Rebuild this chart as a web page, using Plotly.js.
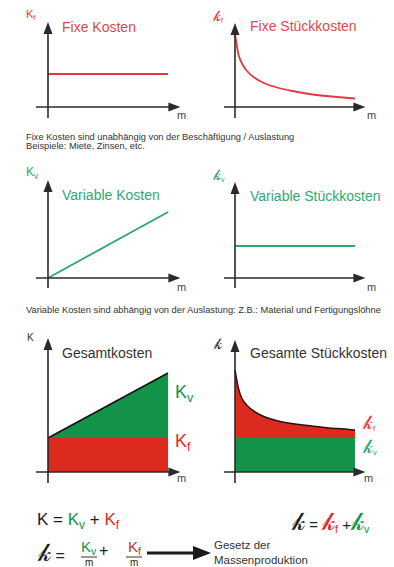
<!DOCTYPE html>
<html><head><meta charset="utf-8">
<script src="https://cdn.plot.ly/plotly-3.0.1.min.js"></script>
<style>html,body{margin:0;padding:0;background:#fff}#chart{width:394px;height:567px}</style>
</head><body><div id="chart"></div>
<script>
// ---- data ----
const mSpan = [0, 10];                 // output quantity m (start, end)
const fixedCost = [3.3, 3.3];          // K_f
const unitFixedM = [0, 0.3, 0.6, 1.0, 1.6, 2.4, 3.5, 4.8, 6.2, 7.6, 9.0, 10];
const unitFixedCost = [7.3, 5.2, 4.3, 3.6, 2.95, 2.4, 1.95, 1.6, 1.3, 1.1, 0.95, 0.85]; // k_f
const variableCost = [0, 6.6];         // K_v
const unitVariableCost = [3.2, 3.2];   // k_v
const totalFixed = [3.4, 3.4];         // K_f part of K
const totalCost = [3.4, 9.9];          // K = K_v + K_f
const unitVarPart = [3.4, 3.4];        // k_v part of k
const unitTotalM = [0, 0.28, 0.56, 0.97, 1.67, 2.5, 3.6, 5.0, 6.4, 7.8, 9.2, 10];
const unitTotalCost = [10.2, 8.4, 7.4, 6.7, 6.0, 5.5, 5.1, 4.8, 4.6, 4.4, 4.3, 4.2]; // k

const panelTitles = ['Fixe Kosten', 'Fixe Stückkosten', 'Variable Kosten', 'Variable Stückkosten', 'Gesamtkosten', 'Gesamte Stückkosten'];

// ---- styles ----
const W = 394, H = 567;
const FF = 'Liberation Sans, Arial, Helvetica, sans-serif';
const RED = '#e4383c', GREEN = '#2ba86a', FILLRED = '#dc2a1f', FILLGREEN = '#13934a', AX = '#2a2a2a', TXT = '#333';
const P = px => px / W, Q = py => 1 - py / H;
const SKg = size => '<span style="font-size:' + size + 'px">𝓀</span>';

function xdom(a, b) { return [P(a), P(b)]; }
function ydom(bot, top) { return [Q(bot), Q(top)]; }
const panels = [
  {xd: xdom(36, 181), yd: ydom(118, 21), xr: [-1, 11.08], yr: [-1.1, 8.6], ytip: 8.5},
  {xd: xdom(224, 366), yd: ydom(118, 21), xr: [-0.917, 10.92], yr: [-1.1, 8.6], ytip: 8.4},
  {xd: xdom(36, 181), yd: ydom(288, 179), xr: [-1, 11.08], yr: [-1, 9.9], ytip: 9.8},
  {xd: xdom(224, 366), yd: ydom(288, 179), xr: [-0.917, 10.92], yr: [-1, 9.9], ytip: 9.6},
  {xd: xdom(36, 181), yd: ydom(483, 337), xr: [-1, 11.08], yr: [-1.1, 13.5], ytip: 13.4},
  {xd: xdom(224, 366), yd: ydom(483, 337), xr: [-0.917, 10.92], yr: [-1.1, 13.5], ytip: 13.2}
];

const layout = {
  width: W, height: H, margin: {l: 0, r: 0, t: 0, b: 0},
  paper_bgcolor: '#fff', plot_bgcolor: 'rgba(0,0,0,0)', showlegend: false,
  font: {family: FF, color: TXT},
  annotations: [], shapes: []
};
const S = layout.shapes;
panels.forEach((p, i) => {
  const n = i === 0 ? '' : String(i + 1);
  const xr = 'x' + n, yr = 'y' + n;
  layout['xaxis' + n] = {domain: p.xd, range: p.xr, visible: false, fixedrange: true, anchor: yr};
  layout['yaxis' + n] = {domain: p.yd, range: p.yr, visible: false, fixedrange: true, anchor: xr};
  const xtip = p.xr[1] - 0.05;
  // axis lines
  S.push({type: 'line', xref: xr, yref: yr, x0: 0, x1: 0, y0: p.yr[0], y1: p.ytip - 0.4, line: {color: AX, width: 1.6}});
  S.push({type: 'line', xref: xr, yref: yr, x0: p.xr[0], x1: xtip - 0.4, y0: 0, y1: 0, line: {color: AX, width: 1.6}});
  // arrow heads (pixel sized)
  S.push({type: 'path', xref: xr, yref: yr, xsizemode: 'pixel', ysizemode: 'pixel', xanchor: 0, yanchor: p.ytip,
    path: 'M0,0 L-4.5,-12 L4.5,-12 Z', fillcolor: AX, line: {width: 0}});
  S.push({type: 'path', xref: xr, yref: yr, xsizemode: 'pixel', ysizemode: 'pixel', xanchor: xtip, yanchor: 0,
    path: 'M0,0 L-12,-4.5 L-12,4.5 Z', fillcolor: AX, line: {width: 0}});
});

function ann(text, px, py, size, color, opts) {
  return Object.assign({xref: 'paper', yref: 'paper', x: P(px), y: Q(py), text: text, showarrow: false,
    xanchor: 'left', yanchor: 'middle', font: {family: FF, size: size, color: color}}, opts || {});
}
const A = layout.annotations;
// titles
A.push(ann(panelTitles[0], 60, 27, 14, '#e0474c'));
A.push(ann(panelTitles[1], 248, 26, 14, '#e0474c'));
A.push(ann(panelTitles[2], 60, 195, 14, '#2fa872'));
A.push(ann(panelTitles[3], 248, 196, 14, '#2fa872'));
A.push(ann(panelTitles[4], 60, 353, 14, TXT));
A.push(ann(panelTitles[5], 248, 353, 14, TXT));
// axis labels
A.push(ann('K<sub>f</sub>', 24, 15, 11, RED));
A.push(ann(SKg(15) + '<sub>f</sub>', 210, 15, 10, RED));
A.push(ann('K<sub>v</sub>', 24, 173, 12, GREEN));
A.push(ann(SKg(15) + '<sub>v</sub>', 210, 174, 10, GREEN));
A.push(ann('K', 25, 337, 10, TXT));
A.push(ann(SKg(15), 211, 343, 10, TXT));
[[181, 115], [371, 115], [181, 287], [371, 287], [181, 478], [368, 478]].forEach(c =>
  A.push(ann('m', c[0], c[1], 11, '#444', {xanchor: 'center'})));
// descriptions
A.push(ann('Fixe Kosten sind unabhängig von der Beschäftigung / Auslastung', 24, 137, 9.3, TXT));
A.push(ann('Beispiele: Miete, Zinsen, etc.', 24, 146, 9.3, TXT));
A.push(ann('Variable Kosten sind abhängig von der Auslastung: Z.B.: Material und Fertigungslöhne', 24, 310, 9.3, TXT));
// labels in bottom panels
A.push(ann('K<sub>v</sub>', 173, 393, 18, FILLGREEN));
A.push(ann('K<sub>f</sub>', 173, 442, 18, FILLRED));
A.push(ann(SKg(19) + '<sub>f</sub>', 361, 422, 11, '#e8383d', {borderpad: 0}));
A.push(ann(SKg(19) + '<sub>v</sub>', 361, 446, 11, '#2ba86a', {borderpad: 0}));
// formulas
A.push(ann('K = <span style="color:' + FILLGREEN + '">K<sub>v</sub></span> + <span style="color:' + FILLRED + '">K<sub>f</sub></span>', 35, 521, 17, '#222'));
A.push(ann(SKg(25) + ' = <span style="color:' + FILLRED + '">' + SKg(25) + '<sub>f</sub></span> +<span style="color:' + FILLGREEN + '">' + SKg(25) + '<sub>v</sub></span>', 372, 521, 15, '#222', {xanchor: 'right'}));
A.push(ann(SKg(25) + ' =', 35, 552, 16, '#222'));
A.push(ann('K<sub>v</sub>', 89, 547, 15, FILLGREEN, {xanchor: 'center'}));
A.push(ann('m', 89, 562, 10, '#222', {xanchor: 'center'}));
A.push(ann('+', 103, 550, 16, '#222', {xanchor: 'center'}));
A.push(ann('K<sub>f</sub>', 134, 547, 15, FILLRED, {xanchor: 'center'}));
A.push(ann('m', 134, 562, 10, '#222', {xanchor: 'center'}));
A.push(ann('Gesetz der', 212, 545, 11.5, TXT));
A.push(ann('Massenproduktion', 212, 560, 11.5, TXT));
// formula arrow
S.push({type: 'line', xref: 'paper', yref: 'paper', x0: P(147), x1: P(196), y0: Q(553), y1: Q(553), line: {color: '#1a1a1a', width: 3}});
S.push({type: 'path', xref: 'paper', yref: 'paper', xsizemode: 'pixel', ysizemode: 'pixel', xanchor: P(211), yanchor: Q(553),
  path: 'M0,0 L-18,-7 L-18,7 Z', fillcolor: '#1a1a1a', line: {width: 0}});
// fraction bars
S.push({type: 'line', xref: 'paper', yref: 'paper', x0: P(81), x1: P(97), y0: Q(557), y1: Q(557), line: {color: '#555', width: 1.2}});
S.push({type: 'line', xref: 'paper', yref: 'paper', x0: P(126), x1: P(142), y0: Q(557), y1: Q(557), line: {color: '#555', width: 1.2}});

// ---- traces ----
const line = (x, y, ax, color, extra) => Object.assign({type: 'scatter', mode: 'lines', x: x, y: y,
  xaxis: 'x' + ax, yaxis: 'y' + ax, line: {color: color, width: 1.8}, hoverinfo: 'skip'}, extra || {});
const data = [
  line(mSpan, fixedCost, '', RED),
  line(unitFixedM, unitFixedCost, '2', RED, {line: {color: RED, width: 1.8, shape: 'spline', smoothing: 0.6}}),
  line(mSpan, variableCost, '3', GREEN),
  line(mSpan, unitVariableCost, '4', GREEN),
  line(mSpan, totalFixed, '5', FILLRED, {fill: 'tozeroy', fillcolor: FILLRED, line: {width: 0, color: FILLRED}}),
  line(mSpan, totalCost, '5', '#111', {fill: 'tonexty', fillcolor: FILLGREEN, line: {width: 1.5, color: '#111'}}),
  line(mSpan, unitVarPart, '6', FILLGREEN, {fill: 'tozeroy', fillcolor: FILLGREEN, line: {width: 0, color: FILLGREEN}}),
  line(unitTotalM, unitTotalCost, '6', '#2a1010', {fill: 'tonexty', fillcolor: FILLRED, line: {width: 1.5, color: '#2a1010', shape: 'spline', smoothing: 0.6}})
];
Plotly.newPlot('chart', data, layout, {staticPlot: true, displayModeBar: false});
</script></body></html>
